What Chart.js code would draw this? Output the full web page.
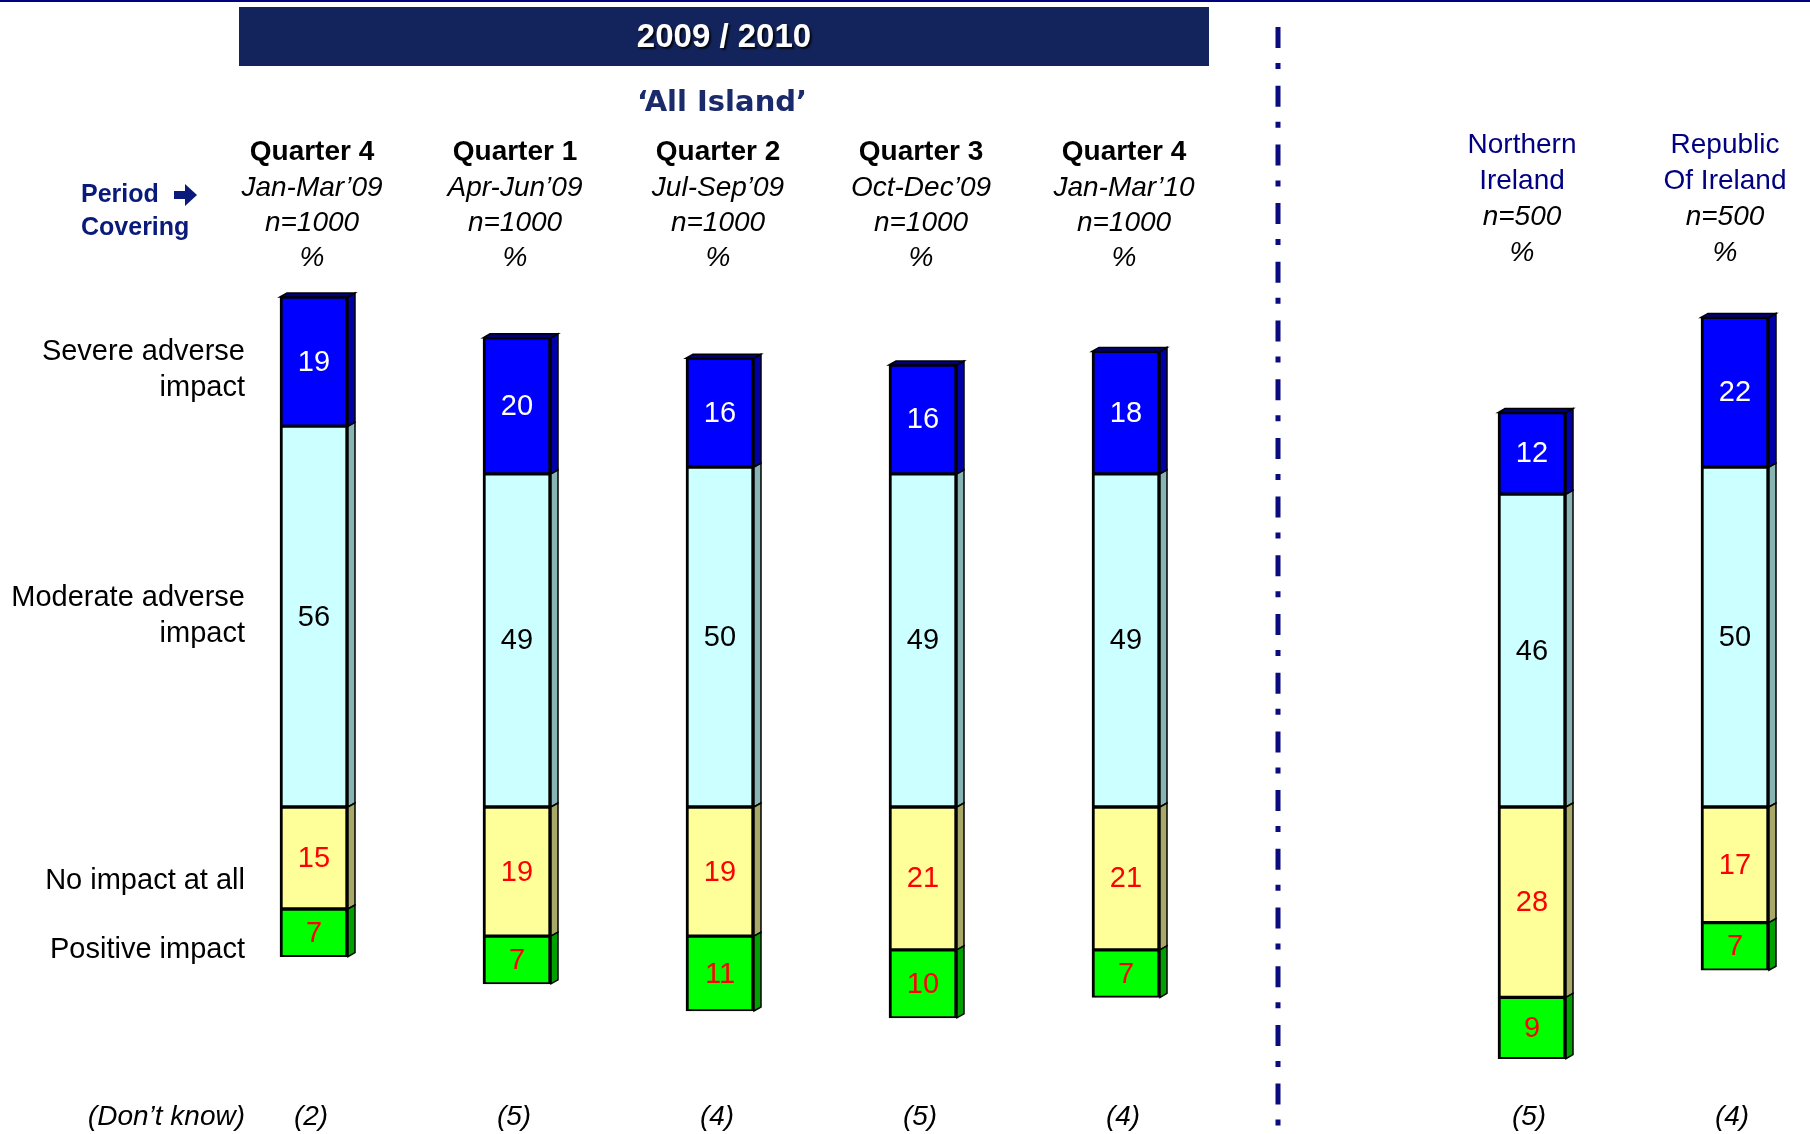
<!DOCTYPE html>
<html>
<head>
<meta charset="utf-8">
<script src="https://cdn.jsdelivr.net/npm/chart.js@4.4.0/dist/chart.umd.min.js"></script>
<style>
  html, body { margin: 0; padding: 0; background: #fff; }
  canvas { display: block; }
</style>
</head>
<body>
<canvas id="chart" width="1810" height="1134"></canvas>
<script>
const quarters = ['Quarter 4', 'Quarter 1', 'Quarter 2', 'Quarter 3', 'Quarter 4'];
const periods = ['Jan-Mar’09', 'Apr-Jun’09', 'Jul-Sep’09', 'Oct-Dec’09', 'Jan-Mar’10'];
const regions = [['Northern', 'Ireland'], ['Republic', 'Of Ireland']];
const sampleSizes = [1000, 1000, 1000, 1000, 1000, 500, 500];

const rowLabels = [['Severe adverse', 'impact'], ['Moderate adverse', 'impact'], ['No impact at all'], ['Positive impact']];
const severe   = [19, 20, 16, 16, 18, 12, 22];
const moderate = [56, 49, 50, 49, 49, 46, 50];
const noImpact = [15, 19, 19, 21, 21, 28, 17];
const positive = [7, 7, 11, 10, 7, 9, 7];
const dontKnow = [2, 5, 4, 5, 4, 5, 4];

// the two regional columns sit one empty slot to the right of the quarters
const slotOf = i => i < quarters.length ? i : i + 1;
const FONT = "'Liberation Sans', Arial, sans-serif";

function series(label, values, sign, fill, side, text, top) {
  return {
    label: label,
    data: values.map((v, i) => ({ x: slotOf(i), y: sign * v })),
    backgroundColor: fill,
    borderColor: '#000',
    borderWidth: { left: 3, right: 3, top: 2, bottom: 2 },
    borderSkipped: false,
    barThickness: 68,
    sideColor: side,
    labelColor: text,
    topFace: top
  };
}

// fake 3D side/top faces + value labels
const barExtras = {
  id: 'barExtras',
  afterDatasetsDraw(chart) {
    const ctx = chart.ctx;
    const d = 7, dy = 4;
    chart.data.datasets.forEach((ds, di) => {
      const meta = chart.getDatasetMeta(di);
      meta.data.forEach((el, i) => {
        const p = el.getProps(['x', 'y', 'base', 'width'], true);
        const top = Math.min(p.y, p.base), bottom = Math.max(p.y, p.base);
        const left = p.x - p.width / 2, right = p.x + p.width / 2;
        ctx.save();
        ctx.lineWidth = 1.5;
        ctx.strokeStyle = '#000';
        ctx.fillStyle = ds.sideColor;
        ctx.beginPath();
        ctx.moveTo(right, top);
        ctx.lineTo(right + d, top - dy);
        ctx.lineTo(right + d, bottom - dy);
        ctx.lineTo(right, bottom);
        ctx.closePath();
        ctx.fill();
        ctx.stroke();
        if (ds.topFace) {
          ctx.fillStyle = '#00007a';
          ctx.beginPath();
          ctx.moveTo(left, top);
          ctx.lineTo(left + d, top - dy);
          ctx.lineTo(right + d, top - dy);
          ctx.lineTo(right, top);
          ctx.closePath();
          ctx.fill();
          ctx.stroke();
        }
        ctx.fillStyle = ds.labelColor;
        ctx.font = '29px ' + FONT;
        ctx.textAlign = 'center';
        ctx.textBaseline = 'middle';
        ctx.fillText(String(Math.abs(ds.data[i].y)), p.x, (top + bottom) / 2 + 1);
        ctx.restore();
      });
    });
  }
};

const decorations = {
  id: 'decorations',
  afterDraw(chart) {
    const ctx = chart.ctx;
    const xs = chart.scales.x;
    const text = (s, x, y, font, color, align) => {
      ctx.font = font;
      ctx.fillStyle = color || '#000';
      ctx.textAlign = align || 'center';
      ctx.textBaseline = 'middle';
      ctx.fillText(s, x, y);
    };
    ctx.save();

    // top rule
    ctx.fillStyle = '#000080';
    ctx.fillRect(0, 0, 1810, 2);

    // title banner
    ctx.fillStyle = '#13245c';
    ctx.fillRect(239, 7, 970, 59);
    ctx.save();
    ctx.shadowColor = 'rgba(0,0,0,0.8)';
    ctx.shadowOffsetX = 2;
    ctx.shadowOffsetY = 2;
    ctx.shadowBlur = 2;
    text('2009 / 2010', 724, 38, 'bold 33px ' + FONT, '#fff');
    ctx.restore();

    text('‘All Island’', 722, 103, "bold 29px 'DejaVu Sans', sans-serif", '#1b2a6b');

    // period covering
    text('Period', 81, 195, 'bold 25px ' + FONT, '#0a1a7a', 'left');
    text('Covering', 81, 228, 'bold 25px ' + FONT, '#0a1a7a', 'left');
    ctx.fillStyle = '#0a1a7a';
    ctx.beginPath();
    ctx.moveTo(174, 191); ctx.lineTo(185, 191); ctx.lineTo(185, 184);
    ctx.lineTo(197, 195); ctx.lineTo(185, 206); ctx.lineTo(185, 199);
    ctx.lineTo(174, 199); ctx.closePath();
    ctx.fill();

    // column headers
    quarters.forEach((q, i) => {
      const cx = xs.getPixelForValue(slotOf(i)) - 2;
      text(q, cx, 152, 'bold 28px ' + FONT);
      text(periods[i], cx, 188, 'italic 28px ' + FONT);
      text('n=' + sampleSizes[i], cx, 223, 'italic 28px ' + FONT);
      text('%', cx, 258, 'italic 28px ' + FONT);
    });
    regions.forEach((r, j) => {
      const i = quarters.length + j;
      const cx = xs.getPixelForValue(slotOf(i)) - 10;
      text(r[0], cx, 145, '28px ' + FONT, '#000080');
      text(r[1], cx, 181, '28px ' + FONT, '#000080');
      text('n=' + sampleSizes[i], cx, 217, 'italic 28px ' + FONT);
      text('%', cx, 253, 'italic 28px ' + FONT);
    });

    // row labels
    const rowY = [[352, 388], [598, 634], [881], [950]];
    rowLabels.forEach((lines, r) => {
      lines.forEach((s, k) => text(s, 245, rowY[r][k], '29px ' + FONT, '#000', 'right'));
    });

    // don't know row
    text('(Don’t know)', 245, 1117, 'italic 28px ' + FONT, '#000', 'right');
    dontKnow.forEach((v, i) => {
      text('(' + v + ')', xs.getPixelForValue(slotOf(i)) - 3, 1117, 'italic 28px ' + FONT);
    });

    // dash-dot divider
    ctx.strokeStyle = '#0b0b80';
    ctx.lineWidth = 5;
    ctx.setLineDash([21, 15, 6, 16.7]);
    ctx.beginPath();
    ctx.moveTo(1278, 27);
    ctx.lineTo(1278, 1126);
    ctx.stroke();
    ctx.restore();
  }
};

const slotPx = 203;
const xMin = -59 / slotPx;

new Chart(document.getElementById('chart'), {
  type: 'bar',
  data: {
    datasets: [
      series(rowLabels[1].join(' '), moderate, 1, '#ccffff', '#88b4b4', '#000', false),
      series(rowLabels[0].join(' '), severe, 1, '#0000ff', '#0000a8', '#fff', true),
      series(rowLabels[2].join(' '), noImpact, -1, '#ffff99', '#a8a868', '#ff0000', false),
      series(rowLabels[3].join(' '), positive, -1, '#00ff00', '#00a000', '#ff0000', false)
    ]
  },
  options: {
    responsive: false,
    animation: false,
    layout: { padding: { top: 263, bottom: 21, left: 255, right: 10 } },
    plugins: { legend: { display: false }, tooltip: { enabled: false } },
    scales: {
      x: { type: 'linear', offset: false, stacked: true, display: false, min: xMin, max: xMin + 1545 / slotPx },
      y: { stacked: true, display: false, min: -45, max: 80 }
    }
  },
  plugins: [barExtras, decorations]
});
</script>
</body>
</html>
